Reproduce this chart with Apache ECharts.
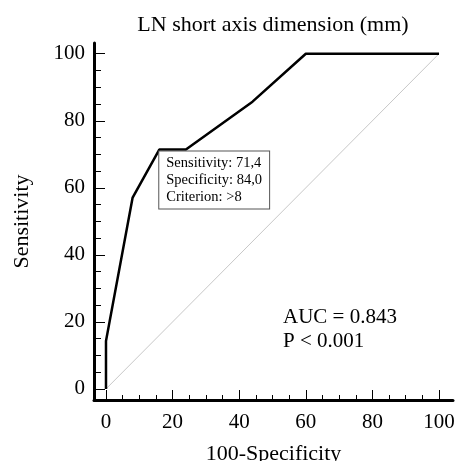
<!DOCTYPE html>
<html>
<head>
<meta charset="utf-8">
<script src="https://cdn.jsdelivr.net/npm/echarts@6/dist/echarts.min.js"></script>
<style>html,body{margin:0;padding:0;background:#fff}#c{width:457px;height:461px}</style>
</head>
<body>
<div id="c"></div>
<script>
const titleText = 'LN short axis dimension (mm)';
const xName = '100-Specificity';
const yName = 'Sensitivity';
const fpr = [0, 0, 8, 16, 24, 44, 60, 100];
const tpr = [0, 14.3, 57.1, 71.4, 71.4, 85.7, 100, 100];
const refX = [0, 100];
const refY = [0, 100];
const majorTicks = [0, 20, 40, 60, 80, 100];
const minorTicks = [0, 5, 10, 15, 20, 25, 30, 35, 40, 45, 50, 55, 60, 65, 70, 75, 80, 85, 90, 95, 100];
const criterionIndex = 3;
const criterionLines = ['Sensitivity: 71,4', 'Specificity: 84,0', 'Criterion: >8'];
const statsLines = ['AUC = 0.843', 'P < 0.001'];

const F = 'Liberation Serif, Times New Roman, serif';
const chart = echarts.init(document.getElementById('c'), null, {renderer: 'canvas'});

const xMin = -3.6, xMax = 104.2, yMin = -3.3, yMax = 103.2;

function axisBase(pos, isX, withLabels, tickLen, ticks) {
  return {
    type: 'value', position: pos, min: isX ? xMin : yMin, max: isX ? xMax : yMax,
    axisLine: {show: withLabels, onZero: false, lineStyle: {color: '#000', width: 3}},
    axisTick: {show: true, inside: true, length: tickLen, customValues: ticks, lineStyle: {color: '#000', width: 1}},
    axisLabel: withLabels ? {show: true, customValues: majorTicks, color: '#000', fontFamily: F, fontSize: 21, margin: isX ? 12 : 9} : {show: false},
    splitLine: {show: false}
  };
}

const xMain = axisBase('bottom', true, true, 10, majorTicks);
xMain.name = xName; xMain.nameLocation = 'middle'; xMain.nameGap = 43;
xMain.nameTextStyle = {color: '#000', fontFamily: F, fontSize: 22};
const xMinor = axisBase('bottom', true, false, 5, minorTicks);
xMinor.axisLine = {show: false, onZero: false};

const yMain = axisBase('left', false, true, 11, majorTicks);
yMain.name = yName; yMain.nameLocation = 'middle'; yMain.nameGap = 61;
yMain.nameTextStyle = {color: '#000', fontFamily: F, fontSize: 22};
const yMinor = axisBase('left', false, false, 7, minorTicks);
yMinor.axisLine = {show: false, onZero: false};

const option = {
  backgroundColor: '#fff',
  animation: false,
  title: {text: titleText, left: 268, top: 9, textAlign: 'center',
    textStyle: {fontFamily: F, fontSize: 22, fontWeight: 'normal', color: '#000'}},
  grid: {left: 94, right: 4, top: 43, bottom: 61, containLabel: false, outerBoundsMode: 'none'},
  xAxis: [xMain, xMinor],
  yAxis: [yMain, yMinor],
  graphic: [{
    type: 'text', left: 283, top: 305,
    style: {text: statsLines.join('\n'), font: '21px ' + F, fill: '#000', lineHeight: 24}
  }],
  series: [
    {type: 'line', data: refX.map((v, i) => [v, refY[i]]), symbol: 'none',
     lineStyle: {color: '#c8c8c8', width: 1}, silent: true, z: 1},
    {type: 'line', data: fpr.map((v, i) => [v, tpr[i]]), symbol: 'none',
     lineStyle: {color: '#000', width: 2.5}, z: 3,
     markPoint: {
       symbol: 'rect', symbolSize: 0,
       data: [{coord: [fpr[criterionIndex], tpr[criterionIndex]],
         label: {show: true, position: [0, 2], align: 'left', verticalAlign: 'top',
           formatter: criterionLines.join('\n'),
           fontFamily: F, fontSize: 14.5, color: '#000', lineHeight: 17,
           backgroundColor: '#fff', borderColor: '#555', borderWidth: 1,
           padding: [3, 7, 3, 7]}}]
     }}
  ]
};
chart.setOption(option);
</script>
</body>
</html>
